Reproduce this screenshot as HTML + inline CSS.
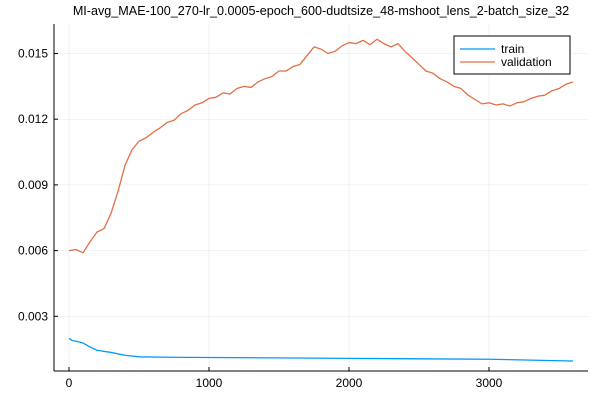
<!DOCTYPE html>
<html><head><meta charset="utf-8"><style>
body{margin:0;background:#fff}
svg{display:block;font-family:"Liberation Sans","DejaVu Sans",sans-serif}
</style></head><body>
<svg id="chart" width="600" height="400" viewBox="0 0 600 400">
<text x="321" y="15" font-size="12.6" text-anchor="middle" fill="#000">MI-avg_MAE-100_270-lr_0.0005-epoch_600-dudtsize_48-mshoot_lens_2-batch_size_32</text>
<g id="grid"></g>
<g id="axes"></g>
<g id="series"></g>
<g>
<rect x="454" y="36" width="116" height="38" fill="#fff" stroke="#000" stroke-width="1"/>
<line x1="460" y1="49" x2="495" y2="49" stroke="#009af9" stroke-width="1.2"/>
<text x="501" y="53" font-size="12">train</text>
<line x1="460" y1="62" x2="495" y2="62" stroke="#e26f46" stroke-width="1.2"/>
<text x="501" y="66" font-size="12">validation</text>
</g>
</svg>
<script>
const valEpochs = [0,50,100,150,200,250,300,350,400,450,500,550,600,650,700,750,800,850,900,950,1000,1050,1100,1150,1200,1250,1300,1350,1400,1450,1500,1550,1600,1650,1700,1750,1800,1850,1900,1950,2000,2050,2100,2150,2200,2250,2300,2350,2400,2450,2500,2550,2600,2650,2700,2750,2800,2850,2900,2950,3000,3050,3100,3150,3200,3250,3300,3350,3400,3450,3500,3550,3600];
const valValues = [.00600,.00605,.00590,.00640,.00685,.00700,.00770,.00870,.00990,.01060,.01100,.01115,.01140,.01160,.01185,.01195,.01225,.01240,.01265,.01275,.01295,.01300,.01320,.01315,.01340,.01350,.01345,.01370,.01385,.01395,.01420,.01420,.01440,.01450,.01490,.01530,.01520,.01500,.01510,.01535,.01550,.01545,.01560,.01540,.01565,.01545,.01530,.01545,.01510,.01480,.01450,.01420,.01410,.01385,.01370,.01350,.01340,.01310,.01290,.01270,.01275,.01265,.01270,.01260,.01275,.01280,.01295,.01305,.01310,.01330,.01340,.01360,.01370];
const trainEpochs = [0,20,60,100,150,200,300,400,500,700,1000,1500,2000,2500,3000,3300,3600];
const trainValues = [.00200,.00190,.00185,.00178,.00160,.00145,.00135,.00122,.00115,.00113,.00112,.00110,.00108,.00106,.00104,.00100,.00096];
const xTicks = [0,1000,2000,3000];
const yTicks = [0.003,0.006,0.009,0.012,0.015];
const yTickLabels = ["0.003","0.006","0.009","0.012","0.015"];

const L=54,R=588,T=24,B=371;
const sx=v=>69+v*0.14;
const sy=v=>382-v*21900;
const NS="http://www.w3.org/2000/svg";
function mk(tag,parent,attrs){const e=document.createElementNS(NS,tag);for(const k in attrs)e.setAttribute(k,attrs[k]);parent.appendChild(e);return e;}
const grid=document.getElementById('grid'),axes=document.getElementById('axes'),series=document.getElementById('series');
xTicks.forEach(t=>{
  const g=mk('line',grid,{x1:sx(t),x2:sx(t),y1:T,y2:B,stroke:'#000','stroke-opacity':0.1,'stroke-width':0.5});
  
  
  const tk=mk('line',axes,{x1:sx(t),x2:sx(t),y1:B,y2:B-4,stroke:'#000','stroke-width':1});
  
  
  const tx=mk('text',axes,{x:sx(t),y:387,'font-size':12,'text-anchor':'middle'});
  tx.textContent=t;
  
  
});
yTicks.forEach((t,i)=>{
  const g=mk('line',grid,{x1:L,x2:R,y1:sy(t),y2:sy(t),stroke:'#000','stroke-opacity':0.1,'stroke-width':0.5});
  
  
  const tk=mk('line',axes,{x1:L,x2:L+4,y1:sy(t),y2:sy(t),stroke:'#000','stroke-width':1});
  
  
  const tx=mk('text',axes,{x:L-6,y:sy(t)+4,'font-size':12,'text-anchor':'end'});
  tx.textContent=yTickLabels[i];
  
  
});
const xa=mk('line',axes,{x1:L,x2:R,y1:B,y2:B,stroke:'#000','stroke-width':1});


const ya=mk('line',axes,{x1:L,x2:L,y1:T,y2:B,stroke:'#000','stroke-width':1});


function path(xs,ys,color,name){
  const d=xs.map((x,i)=>(i?'L':'M')+sx(x).toFixed(2)+' '+sy(ys[i]).toFixed(2)).join(' ');
  const p=mk('path',series,{d:d,fill:'none',stroke:color,'stroke-width':1.3,'stroke-linejoin':'round'});
  
  
}
path(trainEpochs,trainValues,'#009af9','train-line');
path(valEpochs,valValues,'#e26f46','validation-line');
</script>
</body></html>
